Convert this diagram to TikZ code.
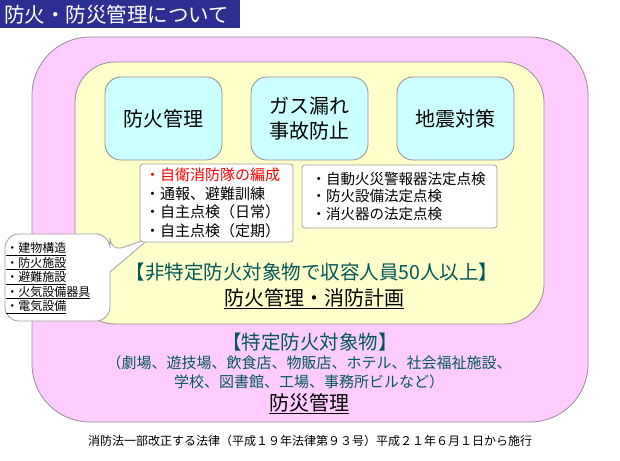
\documentclass[tikz,border=0pt]{standalone}
\usepackage{fontspec}
\setmainfont{Noto Sans CJK JP}
\usetikzlibrary{positioning}

\definecolor{titleblue}{RGB}{45,46,145}
\definecolor{pinkfill}{RGB}{255,204,255}
\definecolor{yellowfill}{RGB}{255,255,204}
\definecolor{topicfill}{RGB}{204,255,255}
\definecolor{zoneline}{RGB}{150,140,150}
\definecolor{headteal}{RGB}{0,88,90}

\begin{document}
\begin{tikzpicture}[x=1pt, y=-1pt, node distance=146pt, >=latex, thick]
    % Styles
    \tikzstyle{zone} = [draw=zoneline]
    \tikzstyle{topic} = [zone, fill=topicfill, rounded corners=16pt, minimum width=117pt, minimum height=83pt, align=center, font=\fontsize{20}{25}\selectfont]
    \tikzstyle{checklist} = [draw=gray!75, fill=white, rounded corners=3pt, align=left]
    \tikzstyle{heading} = [text=headteal, font=\fontsize{19.5}{22}\selectfont]
    \tikzstyle{sublabel} = [text=headteal, align=center, font=\fontsize{15}{19}\selectfont]
    \tikzstyle{duty} = [font=\fontsize{20}{24}\selectfont]
    \tikzstyle{note} = [draw=gray!75, fill=white]

    \useasboundingbox (0,0) rectangle (620,460);

    % Title
    \node [fill=titleblue, text=white, anchor=north west, minimum height=28pt, text width=232pt, inner xsep=4pt, font=\fontsize{20.5}{24}\selectfont] (title) at (0,0) {防火・防災管理について};

    % Zones
    \node [zone, fill=pinkfill, rounded corners=58pt, minimum width=556pt, minimum height=385pt] (specific) at (310,229.5) {};
    \node [zone, fill=yellowfill, rounded corners=40pt, minimum width=469pt, minimum height=262pt] (general) at (309.5,193) {};

    % Nodes
    \node [topic] (fire) at (163.5,118.5) {防火管理};
    \node [topic, right of=fire] (gas) {ガス漏れ\\事故防止};
    \node [topic, right of=gas] (quake) {地震対策};

    % Callout
    \coordinate (tip) at (150,238);
    \draw [note] (110,252) -- (tip) -- (110,272) [rounded corners=14pt] -- (110,321) -- (5,321) -- (5,234) -- (110,234) -- cycle;
    \node [anchor=west, align=left, inner sep=0pt, font=\fontsize{12}{14.5}\selectfont] (facility) at (6,278) {\underline{・建物構造}\\\underline{・防火施設}\\\underline{・避難施設}\\\underline{・火気設備器具}\\\underline{・電気設備}};

    % Checklists
    \node [checklist, minimum height=78pt, text width=143pt, inner xsep=5pt, font=\fontsize{15}{18.5}\selectfont] (drill) at (216.5,203) {\textcolor{red}{・自衛消防隊の編成}\\・通報、避難訓練\\・自主点検（日常）\\・自主点検（定期）};
    \node [checklist, minimum height=63pt, text width=176pt, inner xsep=9.5pt, font=\fontsize{14.5}{17.5}\selectfont] (inspect) at (399.5,196.5) {・自動火災警報器法定点検\\・防火設備法定点検\\・消火器の法定点検};

    % Labels
    \node [heading] (nonspecific) at (312,272) {【非特定防火対象物で収容人員50人以上】};
    \node [duty] (plan) at (314,299) {\underline{防火管理・消防計画}};
    \node [heading] (specificlabel) at (310,342) {【特定防火対象物】};
    \node [sublabel] (examples) at (309,372.5) {（劇場、遊技場、飲食店、物販店、ホテル、社会福祉施設、\\学校、図書館、工場、事務所ビルなど）};
    \node [duty] (disaster) at (309,404) {\underline{防災管理}};
    \node [font=\fontsize{12}{14}\selectfont] (law) at (310,441) {消防法一部改正する法律（平成１９年法律第９３号）平成２１年６月１日から施行};
\end{tikzpicture}
\end{document}
